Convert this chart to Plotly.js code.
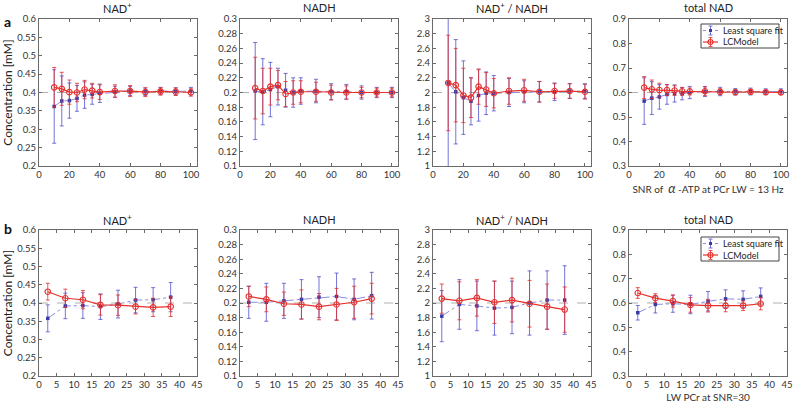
<!DOCTYPE html>
<html>
<head>
<meta charset="utf-8">
<script src="https://cdn.plot.ly/plotly-3.0.1.min.js"></script>
<style>html,body{margin:0;padding:0;background:#fff;}#chart{width:794px;height:403px;}</style>
</head>
<body>
<div id="chart"></div>
<script>
// ---------- data ----------
const snr = [10, 15, 20, 25, 30, 35, 40, 50, 60, 70, 80, 90, 100];
const lwPCr = [2.5, 7.5, 12.5, 17.5, 22.5, 27.5, 32.5, 37.5];

const panelTitles = ["NAD<sup>+</sup>", "NADH", "NAD<sup>+</sup> / NADH", "total NAD"];
const trueValues = [0.4, 0.2, 2, 0.6];
const seriesNames = ["Least square fit", "LCModel"];

// Row a (vs SNR)
const lsqA_nadp     = [0.362, 0.377, 0.378, 0.384, 0.393, 0.395, 0.398, 0.402, 0.404, 0.402, 0.404, 0.403, 0.404];
const lsqA_nadpErr  = [0.100, 0.068, 0.048, 0.035, 0.036, 0.027, 0.025, 0.015, 0.012, 0.010, 0.010, 0.010, 0.010];
const lcmA_nadp     = [0.414, 0.410, 0.401, 0.400, 0.408, 0.405, 0.401, 0.404, 0.404, 0.401, 0.403, 0.402, 0.400];
const lcmA_nadpErr  = [0.054, 0.045, 0.033, 0.025, 0.025, 0.020, 0.020, 0.017, 0.015, 0.012, 0.010, 0.010, 0.010];

const lsqA_nadh     = [0.202, 0.201, 0.204, 0.208, 0.203, 0.200, 0.202, 0.202, 0.201, 0.201, 0.200, 0.200, 0.200];
const lsqA_nadhErr  = [0.066, 0.045, 0.037, 0.025, 0.023, 0.020, 0.018, 0.016, 0.011, 0.010, 0.009, 0.007, 0.007];
const lcmA_nadh     = [0.206, 0.202, 0.208, 0.210, 0.198, 0.200, 0.201, 0.201, 0.200, 0.200, 0.200, 0.200, 0.200];
const lcmA_nadhErr  = [0.042, 0.031, 0.025, 0.020, 0.017, 0.016, 0.015, 0.013, 0.010, 0.009, 0.007, 0.006, 0.006];

const lsqA_ratio    = [2.13, 2.01, 1.93, 1.88, 1.96, 1.99, 1.99, 2.00, 2.01, 2.01, 2.01, 2.02, 2.02];
const lsqA_ratioErr = [1.20, 0.71, 0.50, 0.32, 0.35, 0.29, 0.24, 0.19, 0.15, 0.14, 0.12, 0.10, 0.10];
const lcmA_ratio    = [2.13, 2.10, 1.96, 1.93, 2.08, 2.04, 1.99, 2.02, 2.03, 2.01, 2.02, 2.02, 2.01];
const lcmA_ratioErr = [0.65, 0.50, 0.37, 0.27, 0.24, 0.23, 0.20, 0.18, 0.15, 0.14, 0.10, 0.10, 0.10];

const lsqA_total    = [0.565, 0.577, 0.582, 0.592, 0.596, 0.595, 0.600, 0.604, 0.604, 0.603, 0.604, 0.603, 0.604];
const lsqA_totalErr = [0.095, 0.067, 0.050, 0.040, 0.035, 0.025, 0.025, 0.020, 0.017, 0.013, 0.014, 0.012, 0.011];
const lcmA_total    = [0.620, 0.613, 0.610, 0.610, 0.608, 0.605, 0.604, 0.605, 0.603, 0.601, 0.603, 0.601, 0.600];
const lcmA_totalErr = [0.045, 0.038, 0.028, 0.022, 0.020, 0.016, 0.014, 0.018, 0.012, 0.010, 0.010, 0.008, 0.008];

// Row b (vs PCr linewidth)
const lsqB_nadp     = [0.358, 0.392, 0.393, 0.390, 0.397, 0.408, 0.409, 0.416];
const lsqB_nadpErr  = [0.037, 0.035, 0.035, 0.035, 0.038, 0.035, 0.033, 0.040];
const lcmB_nadp     = [0.431, 0.413, 0.409, 0.395, 0.394, 0.390, 0.388, 0.390];
const lcmB_nadpErr  = [0.023, 0.025, 0.025, 0.028, 0.028, 0.020, 0.025, 0.027];

const lsqB_nadh     = [0.201, 0.201, 0.203, 0.205, 0.208, 0.209, 0.205, 0.210];
const lsqB_nadhErr  = [0.022, 0.026, 0.024, 0.027, 0.028, 0.032, 0.028, 0.032];
const lcmB_nadh     = [0.209, 0.205, 0.199, 0.198, 0.195, 0.198, 0.201, 0.206];
const lcmB_nadhErr  = [0.014, 0.017, 0.016, 0.020, 0.018, 0.022, 0.022, 0.021];

const lsqB_ratio    = [1.82, 1.98, 1.96, 1.93, 1.94, 2.00, 2.04, 2.04];
const lsqB_ratioErr = [0.35, 0.34, 0.34, 0.37, 0.36, 0.44, 0.40, 0.47];
const lcmB_ratio    = [2.06, 2.03, 2.07, 2.01, 2.04, 1.99, 1.95, 1.91];
const lcmB_ratioErr = [0.20, 0.26, 0.25, 0.29, 0.30, 0.32, 0.31, 0.31];

const lsqB_total    = [0.560, 0.594, 0.597, 0.594, 0.607, 0.617, 0.615, 0.627];
const lsqB_totalErr = [0.030, 0.035, 0.035, 0.038, 0.040, 0.037, 0.035, 0.035];
const lcmB_total    = [0.641, 0.620, 0.608, 0.592, 0.589, 0.588, 0.589, 0.597];
const lcmB_totalErr = [0.022, 0.018, 0.025, 0.030, 0.026, 0.024, 0.020, 0.025];

const yRanges = [[0.2, 0.6], [0.1, 0.3], [1, 3], [0.3, 0.9]];
const yDticks = [0.05, 0.02, 0.2, 0.1];

// ---------- layout helpers ----------
const W = 794, H = 403;
const lefts = [39, 240, 433, 629];
const pw = 158;
const rows = [{top: 19, bottom: 166}, {top: 230, bottom: 376}];

const rowData = [
  {x: snr, lsq: [lsqA_nadp, lsqA_nadh, lsqA_ratio, lsqA_total], lsqE: [lsqA_nadpErr, lsqA_nadhErr, lsqA_ratioErr, lsqA_totalErr],
           lcm: [lcmA_nadp, lcmA_nadh, lcmA_ratio, lcmA_total], lcmE: [lcmA_nadpErr, lcmA_nadhErr, lcmA_ratioErr, lcmA_totalErr],
   xrange: [0, 104], dtick: 20, legendTop: 24},
  {x: lwPCr, lsq: [lsqB_nadp, lsqB_nadh, lsqB_ratio, lsqB_total], lsqE: [lsqB_nadpErr, lsqB_nadhErr, lsqB_ratioErr, lsqB_totalErr],
           lcm: [lcmB_nadp, lcmB_nadh, lcmB_ratio, lcmB_total], lcmE: [lcmB_nadpErr, lcmB_nadhErr, lcmB_ratioErr, lcmB_totalErr],
   xrange: [0, 45], dtick: 5, legendTop: 237}
];

const FONT = "Lato, 'Open Sans', sans-serif";
const blueLine = '#8c8ce0', blueMark = '#3a3aa8', blueErr = 'rgba(80,80,205,0.8)';
const redLine = '#e8302a', redErr = 'rgba(228,45,45,0.8)';

const traces = [];
const layout = {
  width: W, height: H,
  margin: {l: 0, r: 0, t: 0, b: 0, pad: 0},
  paper_bgcolor: '#fff', plot_bgcolor: '#fff',
  font: {family: FONT, size: 9, color: '#333'},
  showlegend: false,
  shapes: [], annotations: []
};

const px = v => v / W;
const py = v => 1 - v / H;

let n = 0;
for (let r = 0; r < 2; r++) {
  const rd = rowData[r];
  for (let c = 0; c < 4; c++) {
    n++;
    const xa = 'x' + (n === 1 ? '' : n), ya = 'y' + (n === 1 ? '' : n);
    const xk = 'xaxis' + (n === 1 ? '' : n), yk = 'yaxis' + (n === 1 ? '' : n);
    const axCommon = {
      showgrid: false, zeroline: false, showline: true, linecolor: '#6a6a6a', linewidth: 1,
      mirror: 'ticks', ticks: 'inside', ticklen: 3, tickcolor: '#6a6a6a', tickwidth: 1,
      tickfont: {family: FONT, size: 9.5, color: '#333'}, fixedrange: true
    };
    layout[xk] = Object.assign({}, axCommon, {
      domain: [px(lefts[c]), px(lefts[c] + pw)], anchor: ya,
      range: rd.xrange, dtick: rd.dtick, tick0: 0
    });
    layout[yk] = Object.assign({}, axCommon, {
      domain: [py(rows[r].bottom), py(rows[r].top)], anchor: xa,
      range: yRanges[c], dtick: yDticks[c], tick0: yRanges[c][0]
    });
    if (c === 0) {
      layout[yk].title = {text: 'Concentration [mM]', font: {family: FONT, size: 12, color: '#222'}, standoff: 3};
    }
    if (c === 3) {
      layout[xk].title = {
        text: r === 0 ? 'SNR of  <span style="font-size:13px"><i>α</i></span> -ATP at PCr LW = 13 Hz' : 'LW PCr at SNR=30',
        font: {family: FONT, size: 10, color: '#333'}, standoff: 4
      };
    }
    // reference line at the true value
    layout.shapes.push({type: 'line', xref: xa + ' domain', yref: ya, x0: 0, x1: 1,
      y0: trueValues[c], y1: trueValues[c], layer: 'below',
      line: {color: '#b0b0b0', width: 1, dash: 'dash'}});
    // panel title
    layout.annotations.push({xref: 'paper', yref: 'paper', x: px(lefts[c] + pw / 2), y: py(rows[r].top - 11),
      xanchor: 'center', yanchor: 'middle', showarrow: false, text: panelTitles[c],
      font: {family: FONT, size: 11, color: '#222'}});

    traces.push({
      type: 'scatter', mode: 'lines+markers', x: rd.x, y: rd.lsq[c], xaxis: xa, yaxis: ya,
      name: seriesNames[0],
      line: {color: blueLine, width: 1, dash: 'dashdot'},
      marker: {symbol: 'square', size: 3.5, color: blueMark},
      error_y: {type: 'data', array: rd.lsqE[c], visible: true, color: blueErr, thickness: 1, width: 2}
    });
    traces.push({
      type: 'scatter', mode: 'lines+markers', x: rd.x, y: rd.lcm[c], xaxis: xa, yaxis: ya,
      name: seriesNames[1],
      line: {color: redLine, width: 1.2},
      marker: {symbol: 'circle-open', size: 5.5, color: redLine, line: {width: 1.1, color: redLine}},
      error_y: {type: 'data', array: rd.lcmE[c], visible: true, color: redErr, thickness: 1, width: 2}
    });
  }

  // compact MATLAB-style legend box (key glyphs + text)
  const lx0 = 701, lx1 = 779, ly0 = rd.legendTop, ly1 = rd.legendTop + 24;
  layout.shapes.push({type: 'rect', xref: 'paper', yref: 'paper', x0: px(lx0), x1: px(lx1), y0: py(ly1), y1: py(ly0),
    line: {color: '#444', width: 1}, fillcolor: '#fff', layer: 'above'});
  const keys = [
    {cy: ly0 + 6.5, line: {color: blueLine, width: 1, dash: 'dot'}, err: blueErr, kind: 'sq'},
    {cy: ly0 + 18, line: {color: redLine, width: 1.2}, err: redErr, kind: 'ci'}
  ];
  keys.forEach((k, i) => {
    layout.shapes.push({type: 'line', xref: 'paper', yref: 'paper', x0: px(703), x1: px(718), y0: py(k.cy), y1: py(k.cy), line: k.line, layer: 'above'});
    layout.shapes.push({type: 'line', xref: 'paper', yref: 'paper', x0: px(710.5), x1: px(710.5), y0: py(k.cy - 4.5), y1: py(k.cy + 4.5), line: {color: k.err, width: 1}, layer: 'above'});
    layout.shapes.push({type: 'line', xref: 'paper', yref: 'paper', x0: px(708.5), x1: px(712.5), y0: py(k.cy - 4.5), y1: py(k.cy - 4.5), line: {color: k.err, width: 1}, layer: 'above'});
    layout.shapes.push({type: 'line', xref: 'paper', yref: 'paper', x0: px(708.5), x1: px(712.5), y0: py(k.cy + 4.5), y1: py(k.cy + 4.5), line: {color: k.err, width: 1}, layer: 'above'});
    if (k.kind === 'sq') {
      layout.shapes.push({type: 'rect', xref: 'paper', yref: 'paper', x0: px(709), x1: px(712), y0: py(k.cy + 1.5), y1: py(k.cy - 1.5), line: {width: 0}, fillcolor: blueMark, layer: 'above'});
    } else {
      layout.shapes.push({type: 'circle', xref: 'paper', yref: 'paper', x0: px(708), x1: px(713), y0: py(k.cy + 2.5), y1: py(k.cy - 2.5), line: {color: redLine, width: 1.1}, fillcolor: 'rgba(0,0,0,0)', layer: 'above'});
    }
    layout.annotations.push({xref: 'paper', yref: 'paper', x: px(721), y: py(k.cy), xanchor: 'left', yanchor: 'middle',
      showarrow: false, text: seriesNames[i], font: {family: FONT, size: 9, color: '#222'}});
  });
}

// row labels
layout.annotations.push({xref: 'paper', yref: 'paper', x: px(2), y: py(21), xanchor: 'left', yanchor: 'middle',
  showarrow: false, text: '<b>a</b>', font: {family: FONT, size: 14, color: '#111'}});
layout.annotations.push({xref: 'paper', yref: 'paper', x: px(2), y: py(228), xanchor: 'left', yanchor: 'middle',
  showarrow: false, text: '<b>b</b>', font: {family: FONT, size: 14, color: '#111'}});

Plotly.newPlot('chart', traces, layout, {displayModeBar: false, staticPlot: true});
</script>
</body>
</html>
